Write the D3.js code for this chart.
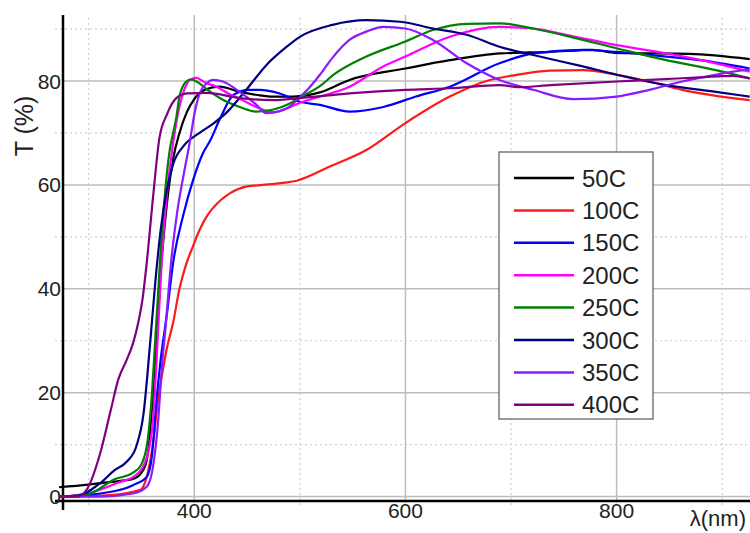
<!DOCTYPE html>
<html>
<head>
<meta charset="utf-8">
<script src="https://cdn.jsdelivr.net/npm/d3@7"></script>
<style>
  html, body { margin: 0; padding: 0; background: #fff; }
  svg { display: block; }
  text { font-family: "Liberation Sans", Arial, sans-serif; fill: #222; }
</style>
</head>
<body>
<svg id="chart" width="750" height="533"></svg>
<script>
// ---- data (wavelength nm, transmittance %) ----
const seriesNames = ["50C", "100C", "150C", "200C", "250C", "300C", "350C", "400C"];
const seriesColors = ["#000000", "#ff1a1a", "#0000ff", "#ff00ff", "#008000", "#000080", "#8c1aff", "#800080"];

const t50C = [[272,1.8],[300,2.3],[320,2.8],[342,3.4],[350,4.6],[355,7],[358,12],[361,20],[364,30],[367,40],[371,50],[375,58],[380,65],[386,70],[393,74],[400,76.5],[410,78.3],[424,78.9],[443,77.9],[460,77.3],[475,77],[494,77],[519,77.8],[547,80.2],[600,82.4],[642,84],[690,85.3],[737,85.6],[777,86],[800,85.4],[869,85.2],[926,84.2]];
const t100C = [[272,0],[320,0.3],[349,1.3],[355,3.8],[361,10.3],[366,19],[370,24],[374,28.5],[380,33.5],[386,40],[392,44.5],[399,48.3],[405,51.3],[412,54],[418,55.6],[434,58.4],[450,59.7],[465,60],[480,60.3],[497,60.8],[528,63.5],[563,66.7],[600,71.9],[642,77],[680,80.2],[700,81],[737,82],[768,82.1],[800,81.2],[831,79.9],[862,78.3],[926,76.3]];
const t150C = [[272,0],[311,0.6],[342,2.2],[355,3.8],[360,8],[364,18],[368,26],[374,35],[380,45],[390,54.5],[399,61],[408,66],[415,68.5],[425,73],[437,77.3],[452,78.3],[462,78.3],[481,77.6],[500,76],[519,75.4],[547,74.1],[579,75],[610,77],[642,78.9],[689,83.4],[721,85.3],[768,86],[800,85.6],[847,84.7],[879,84],[926,82.4]];
const t200C = [[272,0],[301,0.7],[327,2.6],[345,4.2],[355,7.5],[361,15],[364,25],[367,37],[370,48],[374,58],[378,65],[383,72],[390,78],[396,80.2],[402,80.6],[410,79.7],[421,78.9],[433,77.5],[443,76.6],[462,74.7],[475,74],[491,75],[500,75.8],[519,77],[547,78.9],[579,82.8],[600,84.7],[642,88.5],[689,90.4],[721,90.1],[752,88.9],[800,86.9],[847,85.3],[894,83.4],[926,81.8]];
const t250C = [[272,0],[290,0.2],[304,0.8],[323,3.2],[342,4.6],[350,6.2],[356,11],[360,20],[363,30],[366,40],[369,50],[373,60],[377,67],[380,70],[383,73],[386,77],[392,79.8],[397,80.3],[403,79.8],[412,78.4],[427,76.4],[443,75],[459,74.1],[475,74.5],[491,75.7],[500,76.8],[519,79],[532,81.2],[563,84.7],[600,87.6],[626,89.8],[658,91],[689,91.1],[721,90.1],[768,87.9],[800,86.3],[847,84],[894,82.1],[926,80.5]];
const t300C = [[272,0],[290,0.2],[311,2.6],[324,5],[336,6.7],[345,9.6],[352,16],[358,29],[363,41],[368,51],[374,59],[380,64],[390,67.5],[405,70],[418,71.8],[431,74],[450,78.5],[468,83],[487,86.5],[500,88.5],[531,90.8],[563,91.7],[595,91.4],[626,90.1],[658,88.9],[689,86.6],[721,85],[768,82.8],[800,81.2],[847,79.2],[894,77.9],[926,77]];
const t350C = [[272,0],[311,0],[342,0.6],[355,1.9],[361,5.8],[366,15],[369,24],[373,33],[378,45],[384,55],[390,62],[396,68.5],[400,73.5],[405,77.5],[412,79.6],[418,80.2],[427,79.9],[443,77.9],[459,75.4],[468,73.8],[481,74.2],[490,75],[497,76.3],[508,78.5],[519,81.2],[531,84.5],[547,87.9],[563,89.5],[579,90.4],[600,90.1],[626,87.9],[658,83.4],[689,80.2],[721,78.3],[759,76.5],[800,77],[831,78.3],[862,79.9],[894,81.2],[910,81.8],[926,82.2]];
const t400C = [[272,0],[289,0],[298,1.3],[311,8.4],[321,16.7],[328,22.5],[336,26.3],[342,29.5],[347,33.5],[351,38],[355,45],[361,57.7],[367,69],[374,73.5],[383,76.7],[393,77.6],[412,77.7],[443,76.7],[475,76.3],[500,76.7],[547,77.6],[600,78.3],[642,78.6],[689,79.2],[708,78.8],[737,79.2],[800,79.9],[831,80.2],[879,80.7],[910,81],[926,80.5]];
const seriesData = [t50C, t100C, t150C, t200C, t250C, t300C, t350C, t400C];

const xMajorTicks = [400, 600, 800];
const xMinorTicks = [300, 500, 700, 900];
const yMajorTicks = [0, 20, 40, 60, 80];
const yMinorTicks = [10, 30, 50, 70, 90];
const xTitle = "λ(nm)";
const yTitle = "T (%)";

// ---- scales ----
const svg = d3.select("#chart");
const x = d3.scaleLinear().domain([275.7, 926.3]).range([63, 750]);
const y = d3.scaleLinear().domain([-0.85, 92.7]).range([501, 15]);

// ---- grid ----
const grid = svg.append("g");
grid.selectAll("line.xmin").data(xMinorTicks).join("line")
  .attr("x1", d => x(d)).attr("x2", d => x(d)).attr("y1", 18).attr("y2", 508)
  .attr("stroke", "#cfcfcf").attr("stroke-width", 1.2).attr("stroke-dasharray", "2,3");
grid.selectAll("line.ymin").data(yMinorTicks).join("line")
  .attr("x1", 55).attr("x2", 750).attr("y1", d => y(d)).attr("y2", d => y(d))
  .attr("stroke", "#cfcfcf").attr("stroke-width", 1.2).attr("stroke-dasharray", "2,3");
grid.selectAll("line.xmaj").data(xMajorTicks).join("line")
  .attr("x1", d => x(d)).attr("x2", d => x(d)).attr("y1", 15).attr("y2", 503)
  .attr("stroke", "#bdbdbd").attr("stroke-width", 1.5);
grid.selectAll("line.ymaj").data(yMajorTicks).join("line")
  .attr("x1", 63).attr("x2", 750).attr("y1", d => y(d)).attr("y2", d => y(d))
  .attr("stroke", "#bdbdbd").attr("stroke-width", 1.5);

// ---- axes lines ----
svg.append("line").attr("x1", 63).attr("x2", 63).attr("y1", 15).attr("y2", 510)
  .attr("stroke", "#000").attr("stroke-width", 2.5);
svg.append("line").attr("x1", 55).attr("x2", 750).attr("y1", 501).attr("y2", 501)
  .attr("stroke", "#000").attr("stroke-width", 2.5);

// ---- tick labels ----
svg.selectAll("text.ylab").data(yMajorTicks).join("text")
  .attr("x", 61).attr("y", d => y(d)).attr("dy", "0.36em")
  .attr("text-anchor", "end").attr("font-size", 21).text(d => d);
svg.selectAll("text.xlab").data(xMajorTicks).join("text")
  .attr("x", d => x(d)).attr("y", 518)
  .attr("text-anchor", "middle").attr("font-size", 21).text(d => d);

svg.append("text").attr("transform", "translate(33,126) rotate(-90)")
  .attr("text-anchor", "middle").attr("font-size", 25).text(yTitle);
svg.append("text").attr("x", 746).attr("y", 526)
  .attr("text-anchor", "end").attr("font-size", 22).text(xTitle);

// ---- lines ----
const line = d3.line().x(d => x(d[0])).y(d => y(d[1])).curve(d3.curveMonotoneX);
svg.append("g").selectAll("path").data(seriesData).join("path")
  .attr("d", d => line(d))
  .attr("fill", "none")
  .attr("stroke", (d, i) => seriesColors[i])
  .attr("stroke-width", 2.2)
  .attr("stroke-linejoin", "round");

// ---- legend ----
const lg = svg.append("g");
lg.append("rect").attr("x", 499).attr("y", 152).attr("width", 154).attr("height", 267)
  .attr("fill", "#fff").attr("stroke", "#666").attr("stroke-width", 1.3);
const rows = lg.selectAll("g.row").data(seriesNames).join("g")
  .attr("transform", (d, i) => `translate(0,${178 + i * 32.4})`);
rows.append("line").attr("x1", 514).attr("x2", 574).attr("y1", 0).attr("y2", 0)
  .attr("stroke", (d, i) => seriesColors[i]).attr("stroke-width", 2.5);
rows.append("text").attr("x", 582).attr("y", 0).attr("dy", "0.36em")
  .attr("font-size", 24).text(d => d);
</script>
</body>
</html>
